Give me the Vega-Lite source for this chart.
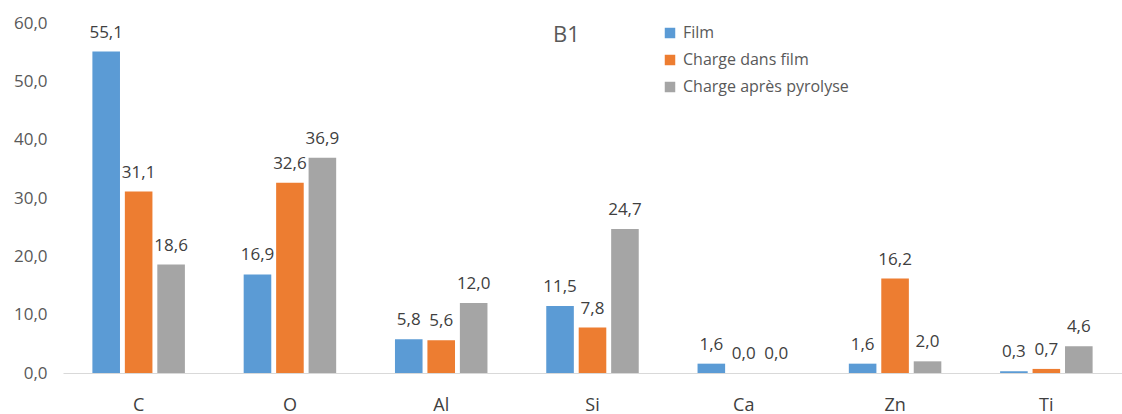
{
  "$schema": "https://vega.github.io/schema/vega-lite/v6.json",
  "width": 1059,
  "height": 350,
  "autosize": {"type": "none"},
  "padding": {"left": 63, "top": 23, "right": 0, "bottom": 41},
  "background": "white",
  "title": {"text": "B1", "anchor": "middle", "dx": -26, "dy": 33, "offset": 0, "fontSize": 22, "font": "Open Sans", "fontWeight": "normal", "color": "#595959"},
  "data": {"values": [
    {"el": "C", "serie": "Film", "v": 55.1},
    {"el": "C", "serie": "Charge dans film", "v": 31.1},
    {"el": "C", "serie": "Charge après pyrolyse", "v": 18.6},
    {"el": "O", "serie": "Film", "v": 16.9},
    {"el": "O", "serie": "Charge dans film", "v": 32.6},
    {"el": "O", "serie": "Charge après pyrolyse", "v": 36.9},
    {"el": "Al", "serie": "Film", "v": 5.8},
    {"el": "Al", "serie": "Charge dans film", "v": 5.6},
    {"el": "Al", "serie": "Charge après pyrolyse", "v": 12.0},
    {"el": "Si", "serie": "Film", "v": 11.5},
    {"el": "Si", "serie": "Charge dans film", "v": 7.8},
    {"el": "Si", "serie": "Charge après pyrolyse", "v": 24.7},
    {"el": "Ca", "serie": "Film", "v": 1.6},
    {"el": "Ca", "serie": "Charge dans film", "v": 0.0},
    {"el": "Ca", "serie": "Charge après pyrolyse", "v": 0.0},
    {"el": "Zn", "serie": "Film", "v": 1.6},
    {"el": "Zn", "serie": "Charge dans film", "v": 16.2},
    {"el": "Zn", "serie": "Charge après pyrolyse", "v": 2.0},
    {"el": "Ti", "serie": "Film", "v": 0.3},
    {"el": "Ti", "serie": "Charge dans film", "v": 0.7},
    {"el": "Ti", "serie": "Charge après pyrolyse", "v": 4.6}
  ]},
  "encoding": {
    "x": {"field": "el", "type": "nominal", "sort": null,
      "scale": {"paddingInner": 0.38, "paddingOuter": 0.19},
      "axis": {"title": null, "labelAngle": 0, "ticks": false, "domainColor": "#d9d9d9", "labelPadding": 23, "labelFontSize": 18, "labelColor": "#404040"}},
    "xOffset": {"field": "serie", "type": "nominal", "sort": ["Film", "Charge dans film", "Charge après pyrolyse"],
      "scale": {"paddingInner": 0.15, "paddingOuter": 0.02}},
    "y": {"field": "v", "type": "quantitative",
      "scale": {"domain": [0, 60], "nice": false},
      "axis": {"title": null, "grid": false, "domain": false, "ticks": false, "values": [0, 10, 20, 30, 40, 50, 60], "labelOverlap": false, "format": ".1f", "labelPadding": 16, "labelFontSize": 17, "labelColor": "#595959"}}
  },
  "layer": [
    {"mark": {"type": "bar"},
     "encoding": {
       "color": {"field": "serie", "type": "nominal", "sort": ["Film", "Charge dans film", "Charge après pyrolyse"],
         "scale": {"domain": ["Film", "Charge dans film", "Charge après pyrolyse"], "range": ["#5B9BD5", "#ED7D31", "#A5A5A5"]},
         "legend": {"title": null, "orient": "none", "legendX": 599, "legendY": 2, "symbolType": "square", "symbolSize": 110, "symbolStrokeWidth": 0, "labelFontSize": 16, "labelLimit": 400, "labelColor": "#595959", "rowPadding": 11, "labelOffset": 5}}
     }},
    {"mark": {"type": "text", "baseline": "bottom", "dy": -10, "fontSize": 17, "color": "#404040"},
     "encoding": {"text": {"field": "v", "type": "quantitative", "format": ".1f"}}}
  ],
  "config": {
    "font": "Open Sans",
    "view": {"stroke": null},
    "locale": {"number": {"decimal": ",", "thousands": " ", "grouping": [3], "currency": ["", " €"]}}
  }
}
